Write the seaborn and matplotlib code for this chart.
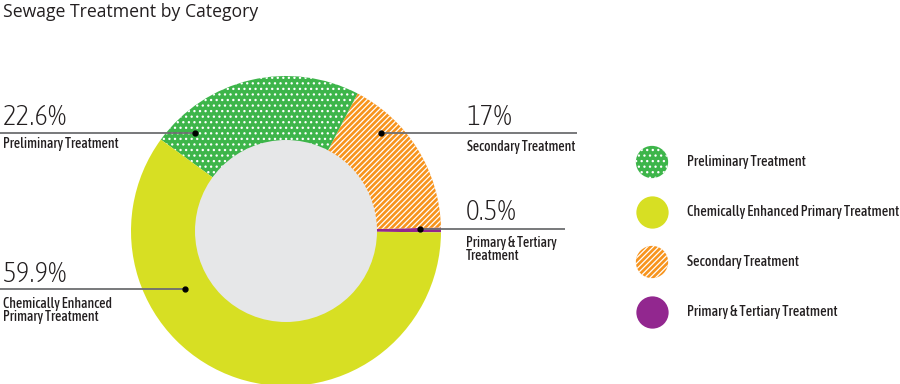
import matplotlib
matplotlib.use("Agg")
import matplotlib.pyplot as plt
import seaborn as sns
from matplotlib.patches import Circle

categories = ["Preliminary Treatment", "Chemically Enhanced Primary Treatment",
              "Secondary Treatment", "Primary & Tertiary Treatment"]
shares = [22.6, 59.9, 17.0, 0.5]
pct_labels = ["22.6%", "59.9%", "17%", "0.5%"]
callout_labels = ["Preliminary Treatment", "Chemically Enhanced\nPrimary Treatment",
                  "Secondary Treatment", "Primary & Tertiary\nTreatment"]
colors = ["#3DB54A", "#D7DF23", "#F7941D", "#92278F"]
hatches = ["...", None, "//////", None]

sns.set_theme(style="white")
COND = ["Asap Condensed", "DejaVu Sans"]
plt.rcParams["font.family"] = COND
plt.rcParams["hatch.linewidth"] = 0.9

W, H = 900, 384
fig = plt.figure(figsize=(9, 3.84), dpi=100)
ax = fig.add_axes([0, 0, 1, 1])

def py(y):
    return H - y

cx, cy = 286, py(231)
R_out, R_in = 155, 91

order = [3, 2, 0, 1]
wedges, _ = ax.pie([shares[i] for i in order], colors=[colors[i] for i in order],
                   startangle=-0.5, counterclock=True, center=(cx, cy), radius=R_out,
                   wedgeprops=dict(linewidth=0), frame=True)
for w, i in zip(wedges, order):
    if hatches[i]:
        w.set_hatch(hatches[i])
        w.set_edgecolor("white")
        w.set_linewidth(0)
ax.set_xlim(0, W)
ax.set_ylim(0, H)
ax.axis("off")
ax.add_patch(Circle((cx, cy), R_in, facecolor="#E6E7E8", edgecolor="none", zorder=3))

TXT = "#231F20"
LINE = "#6D6E71"
callouts = {
    0: (195, 133, 0, 195, 3, 125, 137),
    2: (381, 133, 381, 577, 467, 125, 140),
    3: (420, 229, 420, 565, 466, 220, 236),
    1: (185, 289, 0, 185, 3, 282, 297),
}
for i, (dx, dy, x0, x1, tx, pb, lt) in callouts.items():
    ax.plot([x0, x1], [py(dy), py(dy)], color=LINE, lw=1.3, zorder=4, solid_capstyle="butt")
    ax.plot([dx], [py(dy)], "o", color="black", ms=3.5, zorder=5)
    ax.text(tx, py(pb), pct_labels[i], fontsize=21, color=TXT, va="baseline", ha="left",
            weight="light", family=COND)
    ax.text(tx, py(lt), callout_labels[i], fontsize=9.9, color=TXT, va="top", ha="left",
            linespacing=0.95, weight="medium", family=COND)

leg_y = [162, 212, 262, 312]
for i, ly in enumerate(leg_y):
    sc = ax.scatter([652], [py(ly)], s=540, color=colors[i], linewidths=0, zorder=4)
    if hatches[i]:
        sc.set_hatch(hatches[i])
        sc.set_edgecolor("white")
        sc.set_linewidth(0)
    ax.text(687, py(ly), categories[i], fontsize=10.2, color=TXT, va="center", ha="left",
            weight="medium", family=COND)

ax.text(3, py(3), "Sewage Treatment by Category", fontsize=12.7, color=TXT, va="top",
        ha="left", family=["Open Sans", "DejaVu Sans"])

fig.savefig("out.png", dpi=100, facecolor="white")
